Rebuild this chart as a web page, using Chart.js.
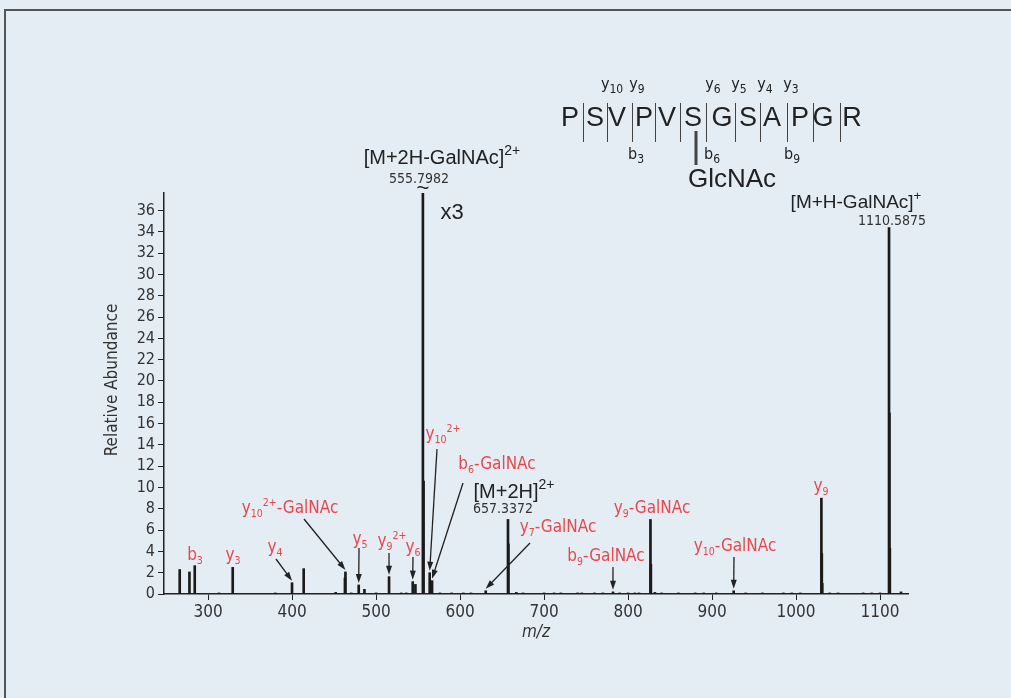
<!DOCTYPE html>
<html lang="en">
<head>
  <meta charset="UTF-8" />
  <title>MS/MS spectrum - PSVPVSGSAPGR</title>
  <script src="https://cdn.jsdelivr.net/npm/chart.js"></script>
  <style>
    body {
      margin: 0;
      background: #e4ecf4;
    }
    canvas {
      display: block;
    }
  </style>
</head>
<body>
  <canvas id="spectrum" width="1011" height="698"></canvas>

  <script>
    // peak list: m/z and relative abundance (555.8 peak is off scale, x3 region)
    const peakMz = [
      266.3, 277.9, 284.2, 313.0, 329.4, 380.0, 400.0, 413.9, 452.0, 463.0, 463.6,
      470.5, 479.4, 486.2, 500.0, 515.5, 530.0, 536.0, 543.7, 546.9, 555.8, 556.6,
      563.9, 566.7, 576.0, 590.0, 604.0, 613.0, 630.6, 657.1, 657.6, 667.0, 675.0,
      700.0, 712.0, 720.0, 740.0, 745.0, 760.0, 770.0, 782.1, 790.0, 800.0, 808.0,
      813.0, 826.7, 827.2, 832.0, 840.0, 860.0, 880.0, 890.0, 905.0, 925.8, 940.0,
      960.0, 985.0, 995.0, 1005.0, 1030.2, 1030.7, 1031.2, 1040.0, 1050.0, 1080.0,
      1090.0, 1100.0, 1110.7, 1111.2, 1111.7, 1125.0
    ];
    const peakAbundance = [
      2.3, 2.07, 2.66, 0.1, 2.5, 0.1, 1.06, 2.38, 0.15, 1.5, 2.07,
      0.1, 0.85, 0.44, 0.1, 1.63, 0.1, 0.1, 1.16, 0.9, 37.65, 10.6,
      2.0, 1.25, 0.1, 0.1, 0.1, 0.1, 0.3, 7.0, 4.7, 0.15, 0.1,
      0.1, 0.1, 0.1, 0.1, 0.1, 0.1, 0.1, 0.2, 0.1, 0.1, 0.1,
      0.1, 7.0, 2.8, 0.15, 0.1, 0.1, 0.1, 0.1, 0.1, 0.3, 0.1,
      0.1, 0.1, 0.1, 0.1, 9.0, 3.8, 1.0, 0.1, 0.1, 0.1,
      0.1, 0.1, 34.4, 17.0, 4.3, 0.2
    ];
    const xTicks = [300, 400, 500, 600, 700, 800, 900, 1000, 1100];
    const yTicks = [0, 2, 4, 6, 8, 10, 12, 14, 16, 18, 20, 22, 24, 26, 28, 30, 32, 34, 36];

    const peptide = ['P', 'S', 'V', 'P', 'V', 'S', 'G', 'S', 'A', 'P', 'G', 'R'];

    const RED = '#e8474c';
    const INK = '#222222';
    const NARROW = "'Liberation Sans Narrow', 'DejaVu Sans Condensed', 'Roboto', sans-serif";
    const WIDE = "'Liberation Sans', 'Helvetica', 'Arial', sans-serif";

    // fragment labels: [text, sub/sup]; text centre in px; arrow start in px, tip at the peak
    const annotations = [
      { segs: [['b', ''], ['3', 'sub']], at: [195, 556] },
      { segs: [['y', ''], ['3', 'sub']], at: [233, 556] },
      { segs: [['y', ''], ['4', 'sub']], at: [275, 548], from: [276, 559], peak: 400.0 },
      { segs: [['y', ''], ['10', 'sub'], ['2+', 'sup'], ['-GalNAc', '']], at: [290, 509], from: [304, 519], peak: 463.6 },
      { segs: [['y', ''], ['5', 'sub']], at: [360, 540], from: [359, 548], peak: 479.4 },
      { segs: [['y', ''], ['9', 'sub'], ['2+', 'sup']], at: [392, 542], from: [389, 553], peak: 515.5 },
      { segs: [['y', ''], ['6', 'sub']], at: [413, 548], from: [413, 557], peak: 543.7 },
      { segs: [['y', ''], ['10', 'sub'], ['2+', 'sup']], at: [443, 435], from: [437, 449], peak: 563.9 },
      { segs: [['b', ''], ['6', 'sub'], ['-GalNAc', '']], at: [497, 465], from: [463, 483], peak: 566.7 },
      { segs: [['y', ''], ['7', 'sub'], ['-GalNAc', '']], at: [558, 528], from: [530, 543], peak: 630.6 },
      { segs: [['b', ''], ['9', 'sub'], ['-GalNAc', '']], at: [606, 557], from: [613, 567], peak: 782.1 },
      { segs: [['y', ''], ['9', 'sub'], ['-GalNAc', '']], at: [652, 509] },
      { segs: [['y', ''], ['10', 'sub'], ['-GalNAc', '']], at: [735, 547], from: [734, 557], peak: 925.8 },
      { segs: [['y', ''], ['9', 'sub']], at: [821, 487] }
    ];

    function richText(ctx, segs, cx, cy, size, color, family, supScale) {
      ctx.save();
      ctx.fillStyle = color;
      ctx.textBaseline = 'middle';
      ctx.textAlign = 'left';
      const parts = segs.map(([t, k]) => {
        const s = k ? size * (supScale || 0.62) : size;
        ctx.font = s + 'px ' + family;
        return { t, s, dy: k === 'sub' ? size * 0.3 : k === 'sup' ? -size * 0.36 : 0, w: ctx.measureText(t).width };
      });
      let x = cx - parts.reduce((a, p) => a + p.w, 0) / 2;
      parts.forEach(p => {
        ctx.font = p.s + 'px ' + family;
        ctx.fillText(p.t, x, cy + p.dy);
        x += p.w;
      });
      ctx.restore();
    }

    function arrow(ctx, x0, y0, x1, y1) {
      const a = Math.atan2(y1 - y0, x1 - x0);
      ctx.save();
      ctx.strokeStyle = INK;
      ctx.fillStyle = INK;
      ctx.lineWidth = 1.3;
      ctx.beginPath();
      ctx.moveTo(x0, y0);
      ctx.lineTo(x1 - 7 * Math.cos(a), y1 - 7 * Math.sin(a));
      ctx.stroke();
      ctx.beginPath();
      ctx.moveTo(x1, y1);
      ctx.lineTo(x1 - 9 * Math.cos(a) + 3 * Math.sin(a), y1 - 9 * Math.sin(a) - 3 * Math.cos(a));
      ctx.lineTo(x1 - 9 * Math.cos(a) - 3 * Math.sin(a), y1 - 9 * Math.sin(a) + 3 * Math.cos(a));
      ctx.closePath();
      ctx.fill();
      ctx.restore();
    }

    function text(ctx, t, x, y, size, family, color, rot) {
      ctx.save();
      ctx.font = size + 'px ' + family;
      ctx.fillStyle = color || INK;
      ctx.textAlign = 'center';
      ctx.textBaseline = 'middle';
      ctx.translate(x, y);
      if (rot) ctx.rotate(rot);
      ctx.fillText(t, 0, 0);
      ctx.restore();
    }

    const framePlugin = {
      id: 'frame',
      beforeDraw(chart) {
        const ctx = chart.ctx;
        ctx.save();
        ctx.fillStyle = '#e4ecf4';
        ctx.fillRect(0, 0, chart.width, chart.height);
        ctx.strokeStyle = '#555555';
        ctx.lineWidth = 2;
        ctx.beginPath();
        ctx.moveTo(5, chart.height);
        ctx.lineTo(5, 10);
        ctx.lineTo(chart.width, 10);
        ctx.stroke();
        ctx.restore();
      }
    };

    const labelPlugin = {
      id: 'labels',
      afterDraw(chart) {
        const ctx = chart.ctx;
        const xs = chart.scales.x, ys = chart.scales.y;

        // y axis title, placed as in the figure (a bit above the axis middle)
        text(ctx, 'Relative Abundance', 113, 380, 17, NARROW, '#333', -Math.PI / 2);

        annotations.forEach(an => {
          richText(ctx, an.segs, an.at[0], an.at[1], 17, RED, NARROW);
          if (an.from) {
            const i = peakMz.indexOf(an.peak);
            const tipY = ys.getPixelForValue(peakAbundance[i]) - 2;
            arrow(ctx, an.from[0], an.from[1], xs.getPixelForValue(an.peak), tipY);
          }
        });

        // precursor labels
        richText(ctx, [['[M+2H-GalNAc]', ''], ['2+', 'sup']], 442, 158, 20, INK, WIDE, 0.7);
        text(ctx, '555.7982', 419, 179, 14, NARROW, '#333');
        text(ctx, '~', xs.getPixelForValue(555.8), 189, 22, WIDE);
        text(ctx, 'x3', 452, 213, 22, WIDE);
        richText(ctx, [['[M+2H]', ''], ['2+', 'sup']], 514, 492, 20, INK, WIDE, 0.7);
        text(ctx, '657.3372', 503, 509, 14, NARROW, '#333');
        richText(ctx, [['[M+H-GalNAc]', ''], ['+', 'sup']], 856, 203, 19, INK, WIDE, 0.7);
        text(ctx, '1110.5875', 892, 221, 14, NARROW, '#333');

        // peptide sequence diagram
        const letterX = [570, 595, 617, 644, 667, 693, 722, 748, 772, 800, 823, 852];
        const sepX = [583, 607, 632, 655, 680, 706, 735, 760, 787, 813, 840];
        peptide.forEach((c, i) => text(ctx, c, letterX[i], 119, 27, WIDE));
        ctx.save();
        ctx.strokeStyle = '#444';
        ctx.lineWidth = 1;
        sepX.forEach(x => {
          ctx.beginPath();
          ctx.moveTo(x + 0.5, 103);
          ctx.lineTo(x + 0.5, 142);
          ctx.stroke();
        });
        ctx.lineWidth = 3;
        ctx.beginPath();
        ctx.moveTo(696, 131);
        ctx.lineTo(696, 165);
        ctx.stroke();
        ctx.restore();
        [['10', 612], ['9', 637], ['6', 713], ['5', 739], ['4', 765], ['3', 791]].forEach(([n, x]) =>
          richText(ctx, [['y', ''], [n, 'sub']], x, 85, 16, INK, NARROW, 0.75));
        [['3', 636], ['6', 712], ['9', 792]].forEach(([n, x]) =>
          richText(ctx, [['b', ''], [n, 'sub']], x, 155, 16, INK, NARROW, 0.75));
        text(ctx, 'GlcNAc', 732, 180, 26, WIDE);
      }
    };

    const ctx = document.getElementById('spectrum').getContext('2d');
    new Chart(ctx, {
      type: 'bar',
      data: {
        datasets: [{
          data: peakMz.map((m, i) => ({ x: m, y: peakAbundance[i] })),
          backgroundColor: '#1a1a1a',
          borderWidth: 0,
          barThickness: 2
        }]
      },
      options: {
        responsive: false,
        animation: false,
        layout: { padding: { left: 100, top: 193, right: 103, bottom: 0 } },
        plugins: {
          legend: { display: false },
          tooltip: { enabled: false }
        },
        scales: {
          x: {
            type: 'linear',
            min: 247.6,
            max: 1133.3,
            offset: false,
            afterBuildTicks: s => { s.ticks = xTicks.map(v => ({ value: v })); },
            afterFit: s => { s.height = 104; },
            grid: { offset: false, drawOnChartArea: false, tickLength: 6, color: INK },
            border: { color: INK, width: 1.5 },
            ticks: { color: '#333', padding: 2, maxRotation: 0, autoSkip: false, font: { size: 17, family: NARROW }, callback: v => String(v) },
            title: {
              display: true,
              text: 'm/z',
              color: '#333',
              font: { size: 17, style: 'italic', family: NARROW },
              padding: { top: 4, bottom: 55 }
            }
          },
          y: {
            min: 0,
            max: 37.65,
            afterBuildTicks: s => { s.ticks = yTicks.map(v => ({ value: v })); },
            afterFit: s => { s.width = 64; },
            grid: { drawOnChartArea: false, tickLength: 6, color: INK },
            border: { color: INK, width: 1.5 },
            ticks: { color: '#333', padding: 3, autoSkip: false, font: { size: 16, family: NARROW } }
          }
        }
      },
      plugins: [framePlugin, labelPlugin]
    });
  </script>
</body>
</html>
